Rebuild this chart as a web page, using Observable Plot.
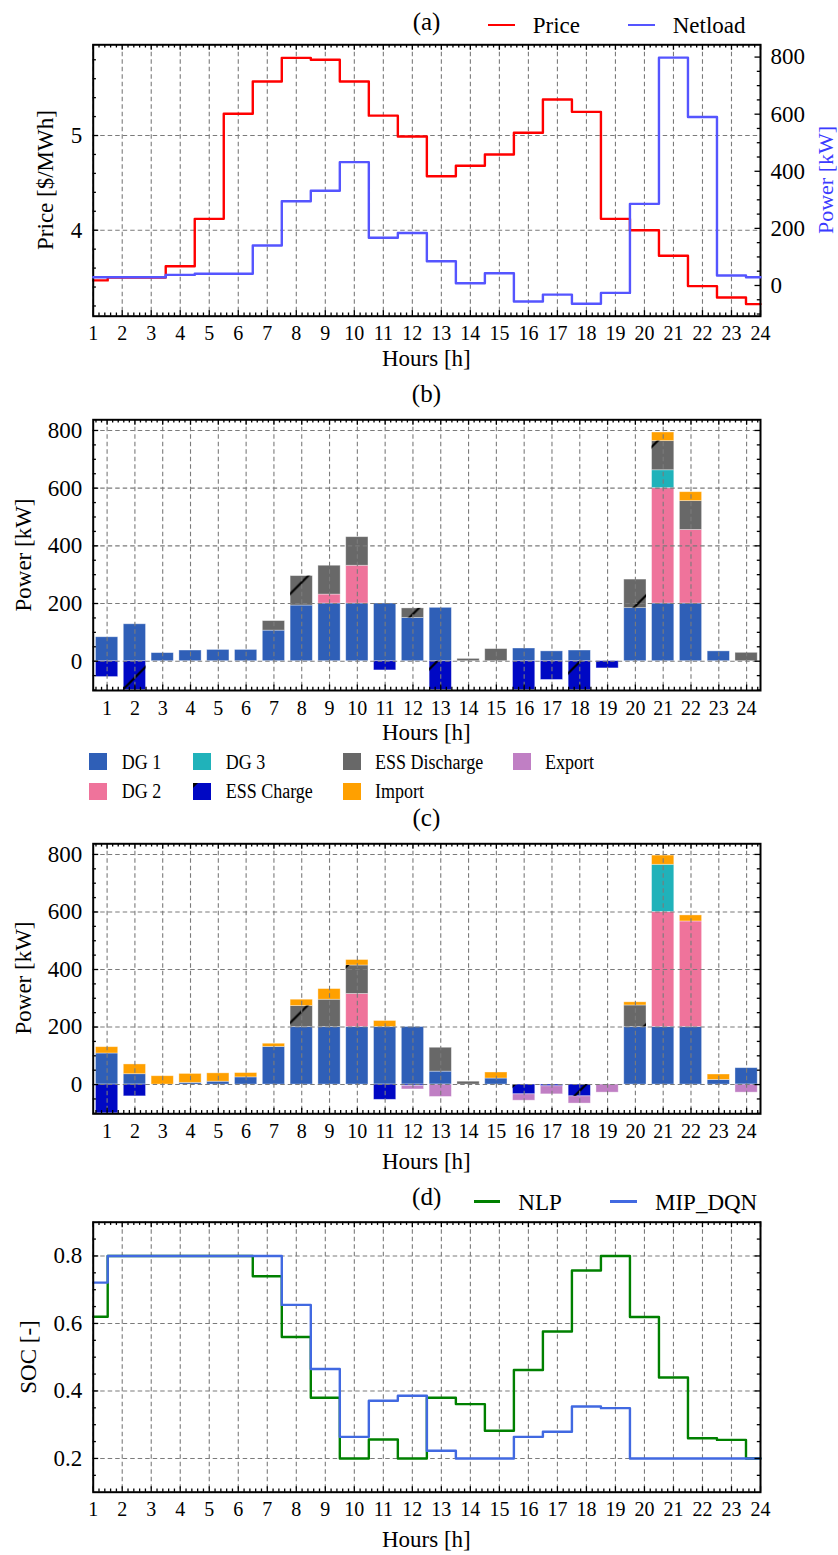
<!DOCTYPE html>
<html><head><meta charset="utf-8">
<script src="https://cdn.jsdelivr.net/npm/d3@7"></script>
<script src="https://cdn.jsdelivr.net/npm/@observablehq/plot@0.6"></script>
<style>
html,body{margin:0;padding:0;background:#fff;}
#root{position:relative;width:838px;height:1555px;overflow:hidden;font-family:"Liberation Serif","Times New Roman",serif;color:#000;}
.lbl{position:absolute;white-space:nowrap;line-height:1;font-family:"Liberation Serif","Times New Roman",serif;}
.sw{position:absolute;}
</style></head><body><div id="root"></div>
<script>
// ---------------- data ----------------
const hours = [1,2,3,4,5,6,7,8,9,10,11,12,13,14,15,16,17,18,19,20,21,22,23,24];
const priceTicks = [4, 5];
const powerTicks = [0, 200, 400, 600, 800];
const socTicks = [0.2, 0.4, 0.6, 0.8];

const price   = [3.47,3.50,3.50,3.62,4.12,5.23,5.57,5.82,5.80,5.57,5.21,4.99,4.57,4.68,4.80,5.03,5.38,5.25,4.12,4.00,3.73,3.41,3.29,3.22];
const netload = [29,29,29,37,41,41,140,295,332,432,167,184,85,8,43,-56,-32,-64,-26,286,798,590,35,29];

const seriesNames  = ["DG 1","DG 2","DG 3","ESS Charge","ESS Discharge","Import","Export"];
const seriesColors = ["#2f5fb7","#ef739b","#20b2ba","#0008c4","#686868","#ffa000","#c07fc4"];

// panel (b)
const bDG1 = [83,128,28,37,39,39,106,193,200,200,200,150,185,0,0,44,34,37,0,184,200,200,34,0];
const bDG2 = [0,0,0,0,0,0,0,0,31,131,0,0,0,0,0,0,0,0,0,0,400,255,0,0];
const bDG3 = [0,0,0,0,0,0,0,0,0,0,0,0,0,0,0,0,0,0,0,0,62,0,0,0];
const bChg = [-55,-100,0,0,0,0,0,0,0,0,-32,0,-100,0,0,-100,-65,-100,-25,0,0,0,0,0];
const bDis = [0,0,0,0,0,0,33,102,100,99,0,33,0,8,42,0,0,0,0,99,101,100,0,29];
const bImp = [0,0,0,0,0,0,0,0,0,0,0,0,0,0,0,0,0,0,0,0,30,31,0,0];
const bExp = [0,0,0,0,0,0,0,0,0,0,0,0,0,0,0,0,0,0,0,0,0,0,0,0];
const bHatch = {"ESS Charge": [2,13,18], "ESS Discharge": [8,12,20,21]};

// panel (c)
const cDG1 = [108,36,0,6,10,25,131,200,200,200,200,200,45,0,21,0,0,0,0,200,200,200,16,57];
const cDG2 = [0,0,0,0,0,0,0,0,0,115,0,0,0,0,0,0,0,0,0,0,400,367,0,0];
const cDG3 = [0,0,0,0,0,0,0,0,0,0,0,0,0,0,0,0,0,0,0,0,164,0,0,0];
const cChg = [-100,-41,0,0,0,0,0,0,0,0,-53,-5,0,0,0,-34,-6,-41,0,0,0,0,0,0];
const cDis = [0,0,0,0,0,0,0,73,95,99,0,0,83,10,0,0,0,0,0,75,0,0,0,0];
const cImp = [22,34,29,31,29,15,11,22,37,19,21,0,0,0,21,0,0,0,0,11,32,21,19,0];
const cExp = [0,0,0,0,0,0,0,0,0,0,0,-12,-43,0,0,-22,-28,-25,-28,0,0,0,0,-28];
const cHatch = {"ESS Charge": [16,18], "ESS Discharge": [8,10,20]};

// panel (d)
const socNLP = [0.62,0.80,0.80,0.80,0.80,0.80,0.74,0.56,0.38,0.20,0.256,0.20,0.38,0.361,0.282,0.462,0.576,0.757,0.80,0.619,0.44,0.26,0.255,0.20];
const socMIP = [0.721,0.80,0.80,0.80,0.80,0.80,0.80,0.655,0.465,0.264,0.371,0.386,0.223,0.20,0.20,0.264,0.279,0.354,0.349,0.20,0.20,0.20,0.20,0.20];

// ---------------- helpers ----------------
const FONT = '"Liberation Serif","Times New Roman",serif';
const W = 838, ML = 92.7, MR = 78;
const root = document.getElementById("root");
const STYLE = {fontFamily: FONT, fontSize: "20px", background: "transparent", overflow: "visible", color: "#000"};
const gridStyle = {stroke: "#7b7b7b", strokeOpacity: 1, strokeWidth: 1.1, strokeDasharray: "4.5,3"};
const tickStyle = {stroke: "#000", strokeWidth: 1.3, strokeOpacity: 1};
const frameStyle = {stroke: "#000", strokeWidth: 2, strokeOpacity: 1};
const xAxisOpt = {tickSize: 0, tickPadding: 10, fontSize: 20, fontFamily: FONT, label: null, tickFormat: d => String(d)};
const yAxisOpt = {tickSize: 0, tickPadding: 11, fontSize: 23, fontFamily: FONT, label: null};
const MAJ = 5.5, MIN = 3.2;
const r1 = v => Math.round(v * 100) / 100;
const minorBetween = (a, b, step, majors) =>
  d3.range(a, b + step / 2, step).map(r1).filter(v => !majors.some(m => Math.abs(m - v) < 1e-6));

function frameTicks(innerW, innerH, {xMaj = [], xMin = [], yMaj = [], yMin = [], left = true, right = true, top = true, bottom = true}) {
  const m = [];
  for (const [v, l] of [[xMaj, MAJ], [xMin, MIN]]) {
    if (top) m.push(Plot.ruleX(v, {...tickStyle, insetBottom: innerH - l}));
    if (bottom) m.push(Plot.ruleX(v, {...tickStyle, insetTop: innerH - l}));
  }
  for (const [v, l] of [[yMaj, MAJ], [yMin, MIN]]) {
    if (left) m.push(Plot.ruleY(v, {...tickStyle, insetRight: innerW - l}));
    if (right) m.push(Plot.ruleY(v, {...tickStyle, insetLeft: innerW - l}));
  }
  return m;
}
function mount(svg, top) {
  svg.style.position = "absolute"; svg.style.left = "0px"; svg.style.top = top + "px";
  root.appendChild(svg);
}
function label(text, x, y, {size = 23, anchor = "middle", rotate = 0, color = "#000", sy = 1} = {}) {
  const d = document.createElement("div");
  d.className = "lbl"; d.textContent = text;
  d.style.left = x + "px"; d.style.top = y + "px"; d.style.fontSize = size + "px"; d.style.color = color;
  const tx = anchor === "middle" ? "-50%" : anchor === "end" ? "-100%" : "0";
  let t = `translate(${tx},-50%)`;
  if (rotate) t += ` rotate(${rotate}deg)`;
  if (sy !== 1) t += ` scaleY(${sy})`;
  d.style.transform = t;
  if (anchor === "start" && sy !== 1) d.style.transformOrigin = "0 50%";
  root.appendChild(d);
}
function hline(x1, x2, y, color, w = 2.5) {
  const d = document.createElement("div");
  d.className = "sw";
  Object.assign(d.style, {left: x1 + "px", top: (y - w / 2) + "px", width: (x2 - x1) + "px", height: w + "px", background: color});
  root.appendChild(d);
}

const hourMinorA = minorBetween(1, 24, 0.2, hours);
const hourMinorB = minorBetween(0.6, 24.4, 0.2, hours);

// ---------------- panel (a) ----------------
(function () {
  const top = 0, H = 370, mt = 44.3, mb = H - 315.7;
  const innerW = W - ML - MR, innerH = H - mt - mb;
  const pData = hours.map((h, i) => ({h, v: price[i]}));
  const nData = hours.map((h, i) => ({h, v: netload[i]}));
  const base = {width: W, height: H, marginLeft: ML, marginRight: MR, marginTop: mt, marginBottom: mb, style: STYLE};
  const s1 = Plot.plot({
    ...base,
    x: {domain: [1, 24]}, y: {domain: [3.092, 5.958]},
    marks: [
      Plot.gridX(hours, gridStyle), Plot.gridY(priceTicks, gridStyle),
      Plot.line(pData, {x: "h", y: "v", curve: "step", stroke: "#ff0000", strokeWidth: 2.4}),
      Plot.frame(frameStyle),
      ...frameTicks(innerW, innerH, {xMaj: hours, xMin: hourMinorA, yMaj: priceTicks, yMin: minorBetween(3.2, 5.8, 0.2, priceTicks), right: false}),
      Plot.axisX(hours, xAxisOpt),
      Plot.axisY(priceTicks, {...yAxisOpt, tickFormat: d => String(d)})
    ]
  });
  mount(s1, top);
  const s2 = Plot.plot({
    ...base,
    x: {domain: [1, 24], axis: null}, y: {domain: [-107.6, 843]},
    marks: [
      Plot.line(nData, {x: "h", y: "v", curve: "step", stroke: "#5555ff", strokeWidth: 2.4}),
      ...frameTicks(innerW, innerH, {yMaj: powerTicks, yMin: minorBetween(-100, 800, 50, powerTicks), left: false, top: false, bottom: false}),
      Plot.axisY(powerTicks, {...yAxisOpt, anchor: "right", tickPadding: 10, tickFormat: d => String(d)})
    ]
  });
  mount(s2, top);
  label("(a)", 426.5, 21, {size: 25});
  hline(488.3, 515, 25, "#ff0000");
  label("Price", 532.7, 25, {size: 23, anchor: "start"});
  hline(628.3, 655, 25, "#5555ff");
  label("Netload", 672.7, 25, {size: 23, anchor: "start"});
  label("Price [$/MWh]", 45, 180, {size: 23, rotate: -90});
  label("Power [kW]", 826, 180, {size: 22, rotate: -90, color: "#3b3bff"});
  label("Hours [h]", 426.4, 358, {size: 23});
})();

// ---------------- bar panels (b), (c) ----------------
function barPanel({top, frameTop, frameBottom, values, hatch, hatchId}) {
  const H = 340, mt = frameTop - top, mb = top + H - frameBottom;
  const innerW = W - ML - MR, innerH = H - mt - mb;
  const rows = [];
  hours.forEach((h, i) => {
    let pos = 0, neg = 0;
    seriesNames.forEach((name, j) => {
      const v = values[j][i];
      if (!v) return;
      const hat = (hatch[name] || []).includes(h);
      if (v > 0) { rows.push({h, name, y1: pos, y2: pos + v, hat}); pos += v; }
      else { rows.push({h, name, y1: neg + v, y2: neg, hat}); neg += v; }
    });
  });
  const xo = {x1: d => d.h - 0.4, x2: d => d.h + 0.4, y1: "y1", y2: "y2", clip: true};
  const svg = Plot.plot({
    width: W, height: H, marginLeft: ML, marginRight: MR, marginTop: mt, marginBottom: mb, style: STYLE,
    x: {domain: [0.5, 24.5]}, y: {domain: [-101.6, 837]},
    color: {domain: seriesNames, range: seriesColors},
    marks: [
      Plot.rect(rows, {...xo, fill: "name", stroke: "#ffffff", strokeOpacity: 0.45, strokeWidth: 0.8}),
      Plot.rect(rows.filter(d => d.hat), {...xo, fill: `url(#${hatchId})`}),
      Plot.gridX(hours, gridStyle), Plot.gridY(powerTicks, gridStyle),
      Plot.frame(frameStyle),
      ...frameTicks(innerW, innerH, {xMaj: hours, xMin: hourMinorB, yMaj: powerTicks, yMin: minorBetween(-100, 800, 50, powerTicks)}),
      Plot.axisX(hours, xAxisOpt),
      Plot.axisY(powerTicks, {...yAxisOpt, tickFormat: d => String(d)})
    ]
  });
  // hatch pattern aligned to page coordinates (x + y constant lines)
  const P = 71.5, ox = (((26 - top) % P) + P) % P;
  const defs = d3.select(svg).insert("defs", ":first-child");
  const pat = defs.append("pattern").attr("id", hatchId).attr("patternUnits", "userSpaceOnUse")
    .attr("width", P).attr("height", P).attr("x", ox).attr("y", 0);
  pat.append("path").attr("d", `M0,${P}L${P},0M-6,6L6,-6M${P - 6},${P + 6}L${P + 6},${P - 6}`)
    .attr("stroke", "#000").attr("stroke-width", 2.2).attr("fill", "none");
  mount(svg, top);
}

barPanel({top: 380, frameTop: 419.3, frameBottom: 690, values: [bDG1, bDG2, bDG3, bChg, bDis, bImp, bExp], hatch: bHatch, hatchId: "hatchB"});
label("(b)", 426.4, 393, {size: 25});
label("Power [kW]", 23.3, 554.7, {size: 23, rotate: -90});
label("Hours [h]", 426.4, 732, {size: 23});

// legend between (b) and (c)
(function () {
  const colX = [89.3, 193.3, 343.3, 513.3], txtX = [121.7, 225.7, 375, 545], rowY = [761.7, 791];
  const order = ["DG 1", "DG 2", "DG 3", "ESS Charge", "ESS Discharge", "Import", "Export"];
  order.forEach((name, k) => {
    const c = Math.floor(k / 2), r = k % 2;
    const color = seriesColors[seriesNames.indexOf(name)];
    const ns = "http://www.w3.org/2000/svg";
    const s = document.createElementNS(ns, "svg");
    s.setAttribute("width", 18); s.setAttribute("height", 17);
    s.style.position = "absolute"; s.style.left = colX[c] + "px"; s.style.top = (rowY[r] - 8.5) + "px";
    const rc = document.createElementNS(ns, "rect");
    rc.setAttribute("width", 18); rc.setAttribute("height", 17); rc.setAttribute("fill", color);
    s.appendChild(rc);
    if (name === "ESS Charge") {
      const p = document.createElementNS(ns, "path");
      p.setAttribute("d", "M0,0L5,0L0,5Z"); p.setAttribute("fill", "#000");
      s.appendChild(p);
    }
    root.appendChild(s);
    label(name, txtX[c], rowY[r], {size: 18, anchor: "start", sy: 1.2});
  });
})();

barPanel({top: 805, frameTop: 843.3, frameBottom: 1113.3, values: [cDG1, cDG2, cDG3, cChg, cDis, cImp, cExp], hatch: cHatch, hatchId: "hatchC"});
label("(c)", 426.4, 817, {size: 25});
label("Power [kW]", 23.3, 978.3, {size: 23, rotate: -90});
label("Hours [h]", 426.4, 1161, {size: 23});

// ---------------- panel (d) ----------------
(function () {
  const top = 1185, H = 370, mt = 1221.7 - top, mb = top + H - 1491.7;
  const innerW = W - ML - MR, innerH = H - mt - mb;
  const nD = hours.map((h, i) => ({h, v: socNLP[i]}));
  const mD = hours.map((h, i) => ({h, v: socMIP[i]}));
  const svg = Plot.plot({
    width: W, height: H, marginLeft: ML, marginRight: MR, marginTop: mt, marginBottom: mb, style: STYLE,
    x: {domain: [1, 24]}, y: {domain: [0.1, 0.9]},
    marks: [
      Plot.gridX(hours, gridStyle), Plot.gridY(socTicks, gridStyle),
      Plot.line(nD, {x: "h", y: "v", curve: "step", stroke: "#008000", strokeWidth: 2.4}),
      Plot.line(mD, {x: "h", y: "v", curve: "step", stroke: "#4169e1", strokeWidth: 2.4}),
      Plot.frame(frameStyle),
      ...frameTicks(innerW, innerH, {xMaj: hours, xMin: hourMinorA, yMaj: socTicks, yMin: minorBetween(0.15, 0.85, 0.05, socTicks)}),
      Plot.axisX(hours, xAxisOpt),
      Plot.axisY(socTicks, {...yAxisOpt, tickFormat: d => d.toFixed(1)})
    ]
  });
  mount(svg, top);
  label("(d)", 426.7, 1196, {size: 25});
  hline(474, 500, 1201.7, "#008000");
  label("NLP", 518.3, 1202, {size: 23, anchor: "start"});
  hline(610, 636.7, 1201.7, "#4169e1");
  label("MIP_DQN", 655, 1202, {size: 23, anchor: "start"});
  label("SOC [-]", 28, 1356.7, {size: 23, rotate: -90});
  label("Hours [h]", 426.4, 1539, {size: 23});
})();
</script></body></html>
